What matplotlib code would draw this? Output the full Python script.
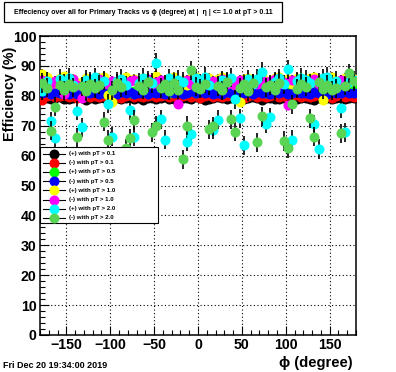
import numpy as np
import matplotlib
matplotlib.use("Agg")
import matplotlib.pyplot as plt
from matplotlib.patches import Rectangle
from matplotlib.lines import Line2D
from matplotlib.ticker import MultipleLocator

plt.rcParams['font.family'] = ['Liberation Sans', 'DejaVu Sans']

# ---------------- data ----------------
phi_centers = np.arange(-177.5, 180.0, 5.0)   # 72 bins of 5 degrees

labels = ["(+) with pT > 0.1", "(-) with pT > 0.1",
          "(+) with pT > 0.5", "(-) with pT > 0.5",
          "(+) with pT > 1.0", "(-) with pT > 1.0",
          "(+) with pT > 2.0", "(-) with pT > 2.0"]
colors = ["#000000", "#ff0000", "#00ff00", "#0000ff",
          "#ffff00", "#ff00ff", "#00ffff", "#59d454"]

eff_pos_01 = [79.1, 79.4, 78.9, 79.3, 79.6, 79.0, 78.8, 79.2, 79.5, 79.1, 78.7, 79.3,
              79.0, 79.4, 79.2, 78.9, 79.6, 79.1, 78.8, 79.3, 79.5, 79.0, 79.2, 78.6,
              79.4, 79.1, 78.9, 79.3, 79.7, 79.0, 78.8, 79.2, 79.4, 79.1, 78.9, 79.5,
              79.2, 78.7, 79.0, 79.3, 79.6, 79.1, 78.8, 79.4, 79.2, 79.0, 78.9, 79.3,
              79.5, 79.1, 78.7, 79.2, 79.4, 79.0, 78.8, 79.3, 79.6, 79.1, 78.9, 79.2,
              79.4, 79.0, 78.7, 79.3, 79.5, 79.1, 78.9, 79.2, 79.4, 78.8, 79.1, 79.3]
eff_neg_01 = [78.7, 79.9, 80.2, 79.5, 79.8, 80.3, 79.6, 80.0, 79.4, 79.9, 80.4, 79.7,
              80.1, 79.5, 79.8, 80.2, 79.6, 80.0, 79.3, 79.9, 80.3, 79.7, 80.0, 79.5,
              79.8, 80.2, 79.6, 79.9, 80.4, 79.7, 80.1, 79.5, 79.8, 80.2, 79.6, 80.0,
              79.4, 79.9, 80.3, 79.7, 80.0, 79.5, 79.8, 80.2, 79.6, 80.1, 79.3, 79.9,
              80.3, 79.7, 80.0, 79.5, 79.8, 80.2, 79.6, 80.0, 79.4, 79.9, 80.4, 79.7,
              80.1, 79.5, 79.8, 80.2, 79.6, 80.0, 79.3, 79.9, 80.3, 79.7, 80.0, 79.6]
eff_pos_05 = [81.2, 81.8, 81.4, 82.0, 81.1, 81.6, 82.2, 81.3, 81.7, 80.9, 81.5, 82.1,
              81.4, 81.9, 81.0, 81.6, 82.3, 81.2, 81.8, 81.5, 80.8, 81.7, 82.0, 81.3,
              81.6, 82.1, 81.2, 81.8, 81.4, 80.9, 81.7, 82.2, 81.3, 81.9, 81.5, 81.0,
              81.8, 81.4, 82.0, 81.1, 81.6, 82.3, 81.2, 81.7, 81.4, 80.9, 81.8, 82.1,
              81.3, 81.9, 81.5, 81.0, 81.7, 82.2, 81.4, 81.8, 81.1, 81.6, 82.0, 81.3,
              81.7, 81.2, 81.9, 82.1, 81.4, 80.9, 81.6, 82.2, 81.3, 81.8, 81.5, 81.9]
eff_neg_05 = [80.8, 81.2, 80.5, 81.4, 80.9, 81.1, 80.6, 81.5, 80.7, 81.3, 80.9, 81.0,
              81.4, 80.6, 81.1, 80.8, 81.5, 80.7, 81.2, 80.9, 81.3, 80.5, 81.0, 81.4,
              80.7, 81.3, 80.9, 81.1, 80.6, 81.4, 80.8, 81.2, 80.5, 81.0, 81.5, 80.8,
              81.2, 80.9, 81.4, 80.7, 81.1, 80.6, 81.3, 80.9, 81.5, 80.8, 81.0, 81.2,
              80.6, 81.3, 80.8, 81.1, 80.5, 81.4, 80.9, 81.2, 80.7, 81.0, 81.3, 80.8,
              81.1, 80.7, 81.4, 80.9, 81.2, 80.6, 81.3, 80.8, 81.0, 81.5, 80.9, 81.1]
eff_pos_10 = [87.3, 86.2, 85.1, 84.3, 85.8, 86.5, 84.9, 85.6, 83.8, 84.7, 86.1, 85.3,
              84.6, 85.9, 86.4, 80.2, 77.8, 84.2, 85.5, 86.3, 84.8, 85.7, 83.9, 86.0,
              85.2, 84.5, 86.6, 85.0, 84.1, 85.8, 86.2, 84.7, 85.4, 83.6, 85.9, 86.3,
              84.8, 85.5, 86.0, 84.3, 85.7, 86.4, 84.9, 85.2, 83.7, 78.0, 85.6, 86.1,
              85.3, 84.6, 86.5, 85.1, 84.2, 85.9, 86.3, 84.8, 85.5, 83.9, 86.0, 85.2,
              84.7, 85.8, 86.2, 84.4, 78.6, 85.6, 86.4, 84.9, 85.3, 86.0, 84.5, 85.7]
eff_neg_10 = [85.3, 84.6, 83.9, 85.1, 84.2, 80.5, 84.8, 85.5, 83.7, 79.3, 84.9, 85.2,
              84.0, 85.6, 84.4, 83.8, 85.0, 84.7, 85.4, 83.6, 84.9, 85.3, 84.1, 84.8,
              85.5, 83.9, 84.6, 85.2, 84.3, 83.5, 85.0, 77.2, 84.7, 85.4, 84.0, 84.9,
              85.3, 84.2, 83.8, 85.1, 84.6, 85.5, 84.0, 84.8, 83.7, 85.2, 84.4, 85.0,
              84.7, 83.9, 85.4, 84.3, 84.9, 85.6, 84.1, 84.5, 76.9, 85.2, 84.8, 83.8,
              85.1, 84.4, 85.5, 84.0, 84.7, 85.3, 83.9, 84.6, 85.2, 84.1, 84.9, 85.4]
eff_pos_20 = [81.7, 84.9, 71.5, 65.8, 85.6, 84.2, 86.0, 83.7, 75.0, 69.5, 85.3, 84.6,
              86.2, 83.9, 85.1, 77.3, 66.3, 84.8, 85.7, 83.5, 75.2, 66.3, 84.4, 86.1,
              85.0, 84.3, 91.1, 72.2, 65.3, 85.9, 83.8, 85.4, 84.7, 64.6, 67.2, 85.8,
              84.1, 86.3, 83.6, 68.6, 72.0, 85.2, 84.5, 86.0, 78.8, 72.5, 63.4, 85.5,
              84.0, 85.7, 88.1, 70.6, 72.8, 84.6, 85.9, 83.8, 88.9, 65.2, 84.9, 86.1,
              85.3, 84.2, 70.5, 62.2, 85.8, 86.4, 83.9, 85.1, 75.8, 67.8, 84.6, 85.2]
eff_neg_20 = [84.3, 82.7, 68.3, 76.4, 83.5, 81.9, 84.1, 82.8, 66.1, 83.2, 81.6, 84.0,
              82.5, 83.7, 71.3, 65.2, 81.8, 84.2, 82.9, 62.4, 65.8, 71.9, 83.4, 82.1,
              84.5, 67.8, 70.0, 82.6, 83.9, 81.7, 84.3, 82.0, 58.7, 70.0, 88.6, 83.1,
              82.4, 84.0, 68.8, 69.8, 83.3, 81.9, 84.6, 72.1, 68.0, 82.7, 83.8, 81.5,
              84.2, 64.5, 73.2, 82.8, 83.6, 81.8, 84.4, 64.9, 62.4, 77.2, 82.3, 84.1,
              83.0, 72.5, 66.3, 84.5, 82.2, 83.7, 81.9, 82.5, 67.5, 83.4, 87.5, 84.8]

series_values = [eff_pos_01, eff_neg_01, eff_pos_05, eff_neg_05,
                 eff_pos_10, eff_neg_10, eff_pos_20, eff_neg_20]
series_errors = [0.5, 0.5, 0.9, 0.9, 1.6, 1.6, 3.2, 3.2]

title_text = "Effeciency over all for Primary Tracks vs \u03d5 (degree) at |  \u03b7 | <= 1.0 at pT > 0.11"
x_ticks = [-150, -100, -50, 0, 50, 100, 150]
y_ticks = [0, 10, 20, 30, 40, 50, 60, 70, 80, 90, 100]

# ---------------- figure ----------------
W, H = 396, 372
fig = plt.figure(figsize=(W / 100, H / 100), dpi=100)
fig.patch.set_facecolor("white")

ax_l, ax_r, ax_t, ax_b = 40, 356, 36, 335
ax = fig.add_axes([ax_l / W, 1 - ax_b / H, (ax_r - ax_l) / W, (ax_b - ax_t) / H])

for k, (vals, err, col) in enumerate(zip(series_values, series_errors, colors)):
    ax.errorbar(phi_centers, vals, yerr=err, fmt='none', ecolor='k',
                elinewidth=1.2, capsize=0, zorder=2 + 2 * k)
    ax.plot(phi_centers, vals, 'o', ms=6.2, mfc=col, mec=col, ls='none',
            zorder=3 + 2 * k)

ax.set_xlim(-180, 180)
ax.set_ylim(0, 100)
ax.set_xticks(x_ticks)
ax.set_yticks(y_ticks)
ax.xaxis.set_minor_locator(MultipleLocator(10))
ax.yaxis.set_minor_locator(MultipleLocator(2))
ax.tick_params(which='both', direction='in', top=False, right=False,
               width=0.8, labelsize=10.2)
ax.tick_params(which='major', length=6.5)
ax.tick_params(which='minor', length=3.3)
ax.tick_params(axis='x', pad=2)
ax.tick_params(axis='y', pad=2.5)
for lab in ax.get_xticklabels() + ax.get_yticklabels():
    lab.set_fontweight('bold')
for sp in ax.spines.values():
    sp.set_linewidth(1.1)
ax.grid(True, which='major', color='k', ls=(0, (1, 2.2)), lw=0.8)
ax.set_axisbelow(True)

# legend (ROOT style box, drawn in pixel layout)
def ax_xy(px, py):
    return ((px - ax_l) / (ax_r - ax_l), (ax_b - py) / (ax_b - ax_t))

lx0, ly0 = ax_xy(40, 223)
lx1, ly1 = ax_xy(158, 147)
ax.add_patch(Rectangle((lx0, ly0), lx1 - lx0, ly1 - ly0, transform=ax.transAxes,
                       fc='white', ec='k', lw=0.8, zorder=30, clip_on=False))
for k, (lab, col) in enumerate(zip(labels, colors)):
    py = 153.5 + 9.2 * k
    xa, ya = ax_xy(43, py)
    xb, _ = ax_xy(65, py)
    xm, _ = ax_xy(53.5, py)
    xt, _ = ax_xy(69, py)
    ax.add_line(Line2D([xa, xb], [ya, ya], color='k', lw=0.8,
                       transform=ax.transAxes, zorder=31, clip_on=False))
    ax.add_line(Line2D([xm], [ya], marker='o', ms=6.2, mfc=col, mec=col,
                       transform=ax.transAxes, zorder=32, clip_on=False))
    ax.text(xt, ya, lab, transform=ax.transAxes, fontsize=4.4, fontweight='bold',
            ha='left', va='center', zorder=33)

# title box
fig.add_artist(Rectangle((4 / W, 1 - 22 / H), 278 / W, 20 / H, transform=fig.transFigure,
                         fc='white', ec='k', lw=0.9))
fig.text(143 / W, 1 - 12 / H, title_text, ha='center', va='center',
         fontsize=5.0, fontweight='bold')

# axis titles
fig.text(10.5 / W, 1 - 94 / H, "Efficiency (%)", rotation=90, ha='center', va='center',
         fontsize=10.4, fontweight='bold')
fig.text(353 / W, 1 - 362.5 / H, "\u03d5 (degree)", ha='right', va='center',
         fontsize=10.6, fontweight='bold')

# date stamp
fig.text(2.7 / W, 1 - 365 / H, "Fri Dec 20 19:34:00 2019", ha='left', va='center',
         fontsize=6.5, fontweight='bold')

fig.savefig("out.png", dpi=100)
